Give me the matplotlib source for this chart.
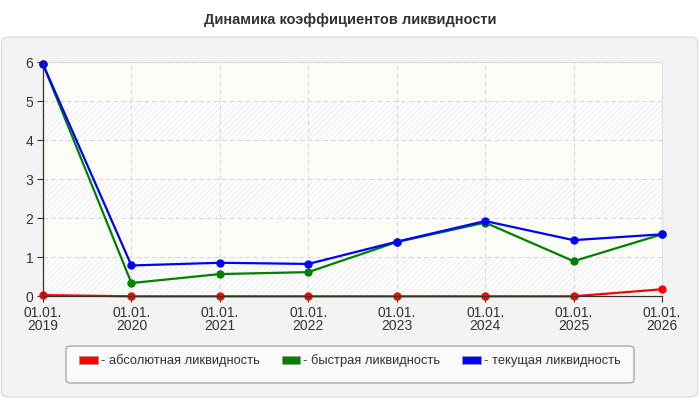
import matplotlib
matplotlib.use("Agg")
import matplotlib.pyplot as plt
from matplotlib.patches import FancyBboxPatch, Rectangle
import matplotlib.patches as mpatches
import numpy as np

plt.rcParams['font.family'] = ['Liberation Sans', 'DejaVu Sans']
plt.rcParams['hatch.linewidth'] = 0.5

title = "Динамика коэффициентов ликвидности"
dates = ["01.01.\n2019", "01.01.\n2020", "01.01.\n2021", "01.01.\n2022",
         "01.01.\n2023", "01.01.\n2024", "01.01.\n2025", "01.01.\n2026"]
absolute = [0.03, 0.0, 0.0, 0.0, 0.0, 0.0, 0.0, 0.18]
quick = [5.95, 0.34, 0.57, 0.62, 1.39, 1.89, 0.90, 1.59]
current = [5.95, 0.79, 0.86, 0.83, 1.40, 1.93, 1.44, 1.59]
names = ["- абсолютная ликвидность", "- быстрая ликвидность", "- текущая ликвидность"]
colors = ["#ff0000", "#008000", "#0000ff"]
yticks = [0, 1, 2, 3, 4, 5, 6]

fig = plt.figure(figsize=(7, 4), dpi=100)
fig.patch.set_facecolor("white")

# outer panel
panel = FancyBboxPatch((1.5/700, 3/400), 696/700, 360/400,
                       boxstyle="round,pad=0,rounding_size=0.012",
                       transform=fig.transFigure, facecolor="#f3f3f3",
                       edgecolor="#dddddd", linewidth=1, zorder=-5)
fig.patches.append(panel)

# legend frame
lframe = FancyBboxPatch((66/700, 1 - 383/400), (634-66)/700, 37/400,
                        boxstyle="round,pad=0,rounding_size=0.008",
                        transform=fig.transFigure, facecolor="#fafafa",
                        edgecolor="#aaaaaa", linewidth=1, zorder=-4)
fig.patches.append(lframe)

fig.text(0.5, 1 - 20/400, title, ha="center", va="center", fontsize=10.5,
         fontweight="bold", color="#333333")

ax = fig.add_axes([43/700, 1 - 296.3/400, (662-43)/700, (296.3-62.3)/400])
ax.set_zorder(1)
ax.set_facecolor("none")
x = np.arange(len(dates))
ax.set_xlim(x[0], x[-1])
ax.set_ylim(0, 6)

# banded background
for i in range(6):
    if i % 2 == 0:
        r = Rectangle((x[0], i), x[-1]-x[0], 1, facecolor="white",
                      edgecolor="#e6e6e6", hatch="//////", linewidth=0, zorder=0)
    else:
        r = Rectangle((x[0], i), x[-1]-x[0], 1, facecolor="#fdfdf8",
                      edgecolor="none", linewidth=0, zorder=0)
    ax.add_patch(r)

ax.grid(True, color="#d8d8d8", linestyle=(0, (4, 3)), linewidth=0.8, zorder=1)
ax.set_axisbelow(False)

for vals, c in zip([absolute, quick, current], colors):
    ax.plot(x, vals, color=c, linewidth=1.6, marker="o", markersize=5, zorder=3,
            clip_on=False)

ax.set_xticks(x)
ax.set_xticklabels(dates, fontsize=10, color="#333333", linespacing=0.9)
ax.set_yticks(yticks)
ax.set_yticklabels([str(v) for v in yticks], fontsize=10, color="#333333")
ax.tick_params(axis="both", length=4, color="#333333")
ax.tick_params(axis="x", pad=3)
ax.tick_params(axis="y", pad=3)
for s in ["top", "right"]:
    ax.spines[s].set_color("#e0e0e0")
    ax.spines[s].set_linewidth(0.8)
for s in ["left", "bottom"]:
    ax.spines[s].set_color("#333333")
    ax.spines[s].set_linewidth(0.9)
    ax.spines[s].set_zorder(4)

handles = [mpatches.Patch(facecolor=c, edgecolor="#999999", linewidth=0.5) for c in colors]
leg = fig.legend(handles, names, loc="center", bbox_to_anchor=(350/700, 1 - 361/400),
                 ncol=3, fontsize=9.3, frameon=False,
                 handlelength=1.45, handleheight=0.5, handletextpad=0.25,
                 columnspacing=1.7, borderpad=0.3, labelcolor="#333333")

fig.savefig("out.png", dpi=100)
